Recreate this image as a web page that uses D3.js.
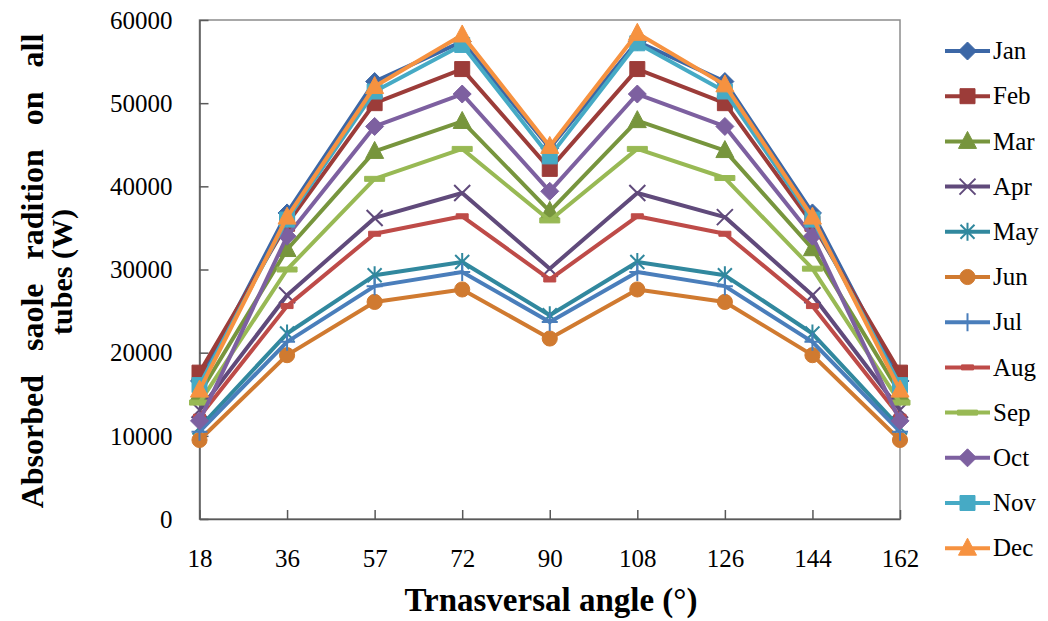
<!DOCTYPE html>
<html>
<head>
<meta charset="utf-8">
<script src="https://cdn.jsdelivr.net/npm/d3@7"></script>
<style>
  body { margin: 0; background: #fff; }
  text { font-family: "Liberation Serif", "Times New Roman", serif; }
</style>
</head>
<body>
<div id="chart"></div>
<script>
// Chart data
var angles = ["18", "36", "57", "72", "90", "108", "126", "144", "162"];
var months = ["Jan", "Feb", "Mar", "Apr", "May", "Jun", "Jul", "Aug", "Sep", "Oct", "Nov", "Dec"];
var yTicks = [0, 10000, 20000, 30000, 40000, 50000, 60000];

var jan = [16600, 36800, 52600, 57400, 44600, 57400, 52600, 36800, 16600];
var feb = [17600, 35500, 50000, 54100, 42100, 54100, 50000, 35500, 17600];
var mar = [15100, 32400, 44200, 47800, 37000, 47900, 44300, 32500, 15100];
var apr = [13100, 26900, 36200, 39200, 30100, 39200, 36300, 26900, 13100];
var may = [11000, 22300, 29300, 30900, 24500, 30900, 29300, 22300, 11000];
var jun = [9500, 19700, 26100, 27600, 21700, 27600, 26100, 19700, 9500];
var jul = [10500, 21300, 28000, 29700, 23700, 29700, 28000, 21300, 10500];
var aug = [12300, 25600, 34300, 36400, 28800, 36400, 34300, 25600, 12300];
var sep = [14000, 30000, 40900, 44500, 35900, 44500, 41000, 30100, 14000];
var oct = [11800, 34000, 47200, 51100, 39400, 51100, 47200, 34000, 11800];
var nov = [16100, 36000, 51400, 57000, 43600, 57200, 51400, 36000, 16100];
var dec = [15500, 36300, 52000, 58200, 44800, 58400, 52200, 36300, 15500];

var seriesValues = [jan, feb, mar, apr, may, jun, jul, aug, sep, oct, nov, dec];

// styles per series (Excel look)
var seriesColors = ["#3c67a6", "#9c3c39", "#77953d", "#604a7b", "#31889e", "#d07a30",
  "#4a7ebb", "#be4b48", "#98b954", "#7d60a0", "#46aac5", "#f69240"];
var seriesMarkers = ["diamond", "square", "triangle", "x", "star", "circle",
  "plus", "dash", "longdash", "diamond", "square", "triangle"];

var serif = "'Liberation Serif', 'Times New Roman', serif";

// SVG area
var svgWidth = 1048;
var svgHeight = 621;

var plot = { left: 199.5, right: 900, top: 20, bottom: 519 };

var svg = d3.select("#chart")
  .append("svg")
  .attr("width", svgWidth)
  .attr("height", svgHeight);

var xScale = d3.scalePoint()
  .domain(angles)
  .range([plot.left, plot.right]);

var yScale = d3.scaleLinear()
  .domain([0, 60000])
  .range([plot.bottom, plot.top]);

// plot area frame
svg.append("rect")
  .attr("x", plot.left)
  .attr("y", plot.top)
  .attr("width", plot.right - plot.left)
  .attr("height", plot.bottom - plot.top)
  .attr("fill", "none")
  .attr("stroke", "#8c8c8c")
  .attr("stroke-width", 1.5);

// y axis, ticks pointing inward
var leftAxis = d3.axisLeft(yScale)
  .tickValues(yTicks)
  .tickFormat(d3.format("d"))
  .tickSizeInner(-9)
  .tickSizeOuter(0)
  .tickPadding(27);

var yAxisG = svg.append("g")
  .attr("transform", `translate(${plot.left},0)`)
  .call(leftAxis);

// x axis, ticks pointing up
var bottomAxis = d3.axisBottom(xScale)
  .tickSizeInner(-9)
  .tickSizeOuter(0)
  .tickPadding(30);

var xAxisG = svg.append("g")
  .attr("transform", `translate(0,${plot.bottom})`)
  .call(bottomAxis);

[yAxisG, xAxisG].forEach(function (g) {
  g.attr("font-family", serif).attr("font-size", 25);
  g.select(".domain").attr("stroke", "#595959").attr("stroke-width", 1.5);
  g.selectAll(".tick line").attr("stroke", "#595959").attr("stroke-width", 1.5);
  g.selectAll(".tick text").attr("fill", "#000");
});
yAxisG.selectAll(".tick text").attr("dy", "0.33em");

// marker shapes
function markerPath(type) {
  switch (type) {
    case "diamond": return "M0,-9L9,0L0,9L-9,0Z";
    case "square": return "M-7.5,-7.5H7.5V7.5H-7.5Z";
    case "triangle": return "M0,-10L9,7L-9,7Z";
    case "circle": return d3.symbol(d3.symbolCircle, 180)();
    case "x": return "M-8,-8L8,8M8,-8L-8,8";
    case "star": return "M-7,-7L7,7M7,-7L-7,7M0,-9V9";
    case "plus": return "M-8,0H8M0,-9V9";
    case "dash": return "M-6,-2.5H6V2.5H-6Z";
    case "longdash": return "M-10,-2.5H10V2.5H-10Z";
  }
}

function isStroked(type) {
  return type === "x" || type === "star" || type === "plus";
}

function drawMarker(g, type, color) {
  var p = g.append("path").attr("d", markerPath(type));
  if (isStroked(type)) {
    p.attr("fill", "none").attr("stroke", color).attr("stroke-width", 2);
  } else {
    p.attr("fill", color).attr("stroke", color).attr("stroke-width", 1);
  }
}

var line = d3.line()
  .x(function (d, i) { return xScale(angles[i]); })
  .y(function (d) { return yScale(d); });

// draw series, first month at the bottom
var seriesG = svg.append("g");
seriesValues.forEach(function (values, s) {
  var g = seriesG.append("g");
  g.append("path")
    .datum(values)
    .attr("d", line)
    .attr("fill", "none")
    .attr("stroke", seriesColors[s])
    .attr("stroke-width", 4)
    .attr("stroke-linejoin", "round");

  g.selectAll(".pt")
    .data(values)
    .enter()
    .append("g")
    .attr("transform", function (d, i) { return `translate(${xScale(angles[i])},${yScale(d)})`; })
    .each(function () { drawMarker(d3.select(this), seriesMarkers[s], seriesColors[s]); });
});

// legend
var legend = svg.append("g")
  .attr("font-family", serif)
  .attr("font-size", 25);
months.forEach(function (m, s) {
  var ly = 51 + s * 45.2;
  var item = legend.append("g").attr("transform", `translate(0,${ly})`);
  item.append("line")
    .attr("x1", 945).attr("x2", 990)
    .attr("stroke", seriesColors[s])
    .attr("stroke-width", 4);
  var mk = item.append("g").attr("transform", "translate(967.5,0)");
  drawMarker(mk, seriesMarkers[s], seriesColors[s]);
  item.append("text")
    .attr("x", 993)
    .attr("dy", "0.33em")
    .text(m);
});

// axis titles
svg.append("text")
  .attr("x", 551)
  .attr("y", 611)
  .attr("text-anchor", "middle")
  .attr("font-weight", "bold")
  .style("font-size", "33px")
  .text("Trnasversal angle (°)");

svg.append("text")
  .attr("transform", "translate(43,271) rotate(-90)")
  .attr("text-anchor", "middle")
  .attr("font-weight", "bold")
  .style("font-size", "32px")
  .style("word-spacing", "16px")
  .text("Absorbed saole radition on all");

svg.append("text")
  .attr("transform", "translate(72,272) rotate(-90)")
  .attr("text-anchor", "middle")
  .attr("font-weight", "bold")
  .style("font-size", "30px")
  .text("tubes (W)");
</script>
</body>
</html>
